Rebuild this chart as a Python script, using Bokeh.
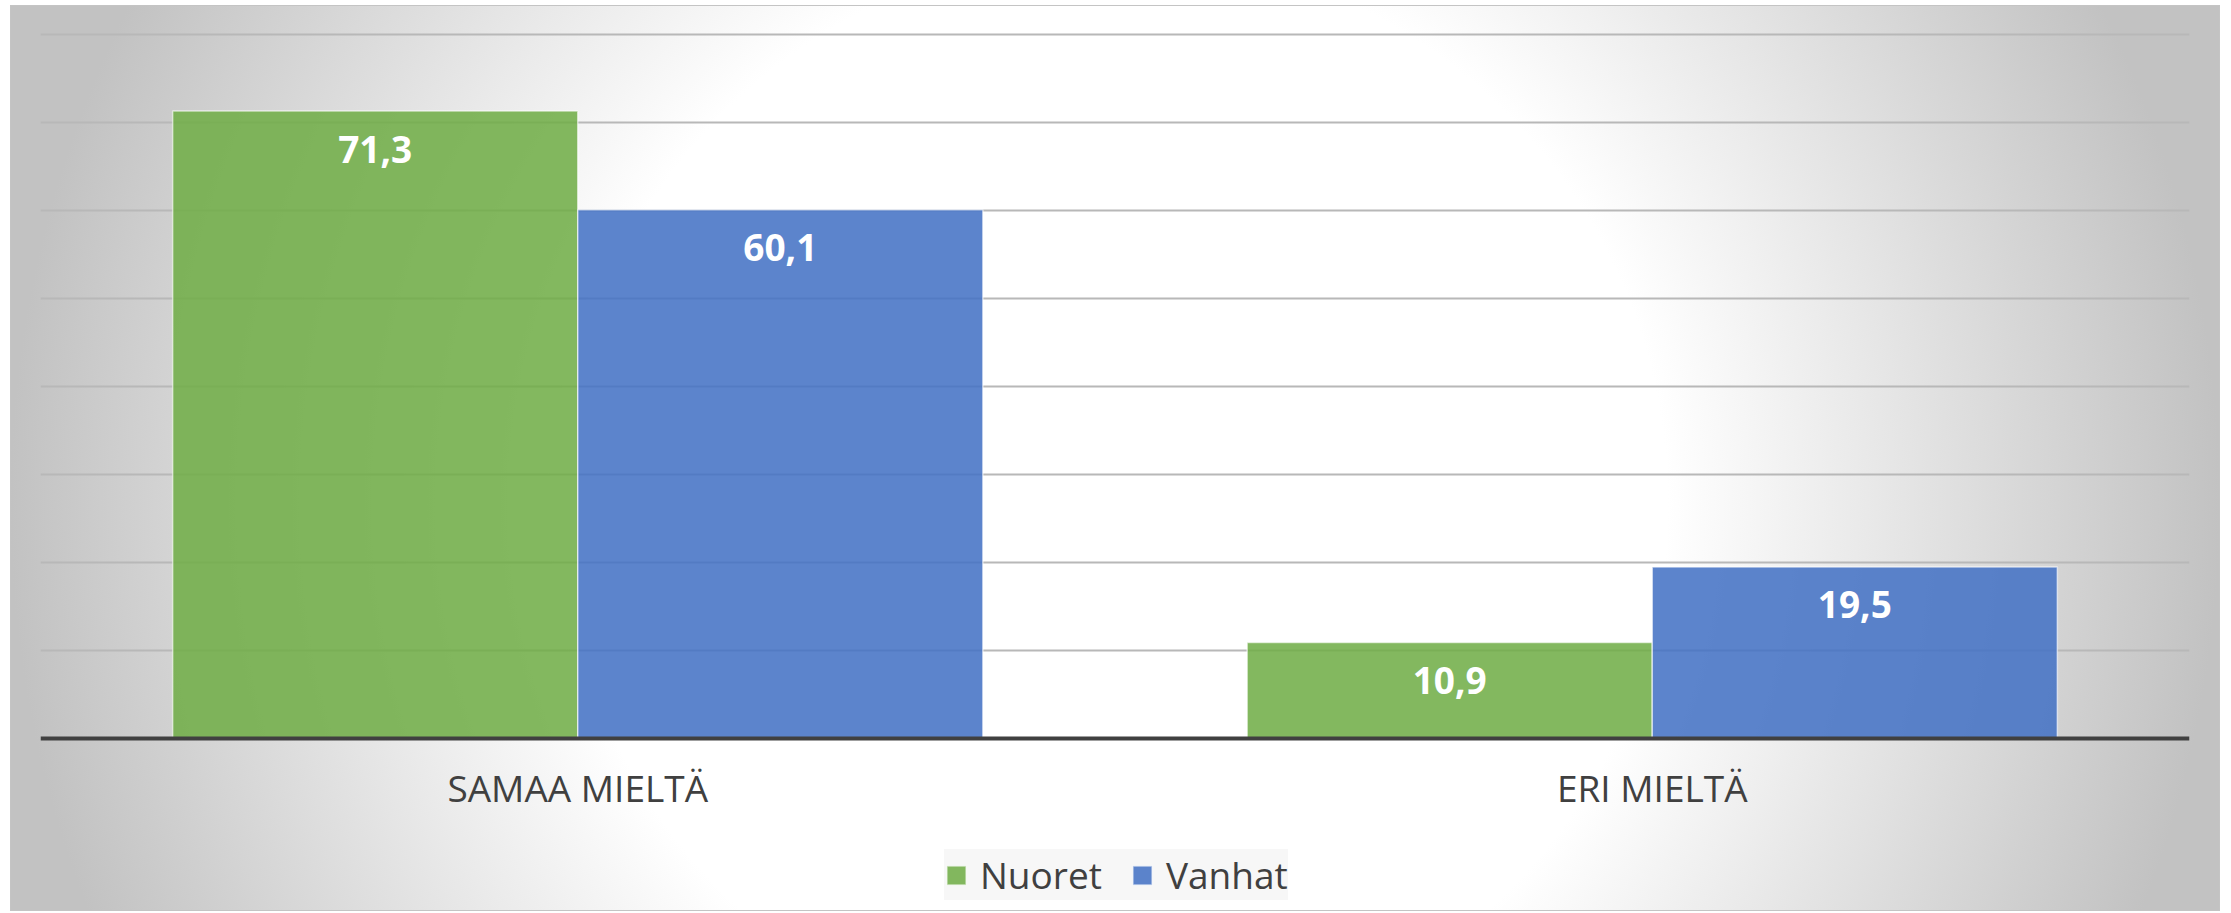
from bokeh.plotting import figure
from bokeh.models import (FactorRange, Range1d, FixedTicker, Legend, LegendItem,
                          ColumnDataSource)
from bokeh.transform import dodge
from bokeh.core.properties import value
from bokeh.embed import file_html
from bokeh.resources import INLINE

# ---- data ----
categories = ["SAMAA MIELTÄ", "ERI MIELTÄ"]
series_names = ["Nuoret", "Vanhat"]
nuoret = [71.3, 10.9]
vanhat = [60.1, 19.5]
y_ticks = [10, 20, 30, 40, 50, 60, 70, 80]

def fmt(v):
    return f"{v:.1f}".replace(".", ",")

src = ColumnDataSource(dict(
    cat=categories,
    nuoret=nuoret,
    vanhat=vanhat,
    nuoret_lbl=[fmt(v) for v in nuoret],
    vanhat_lbl=[fmt(v) for v in vanhat],
))

FONT = "Open Sans"
GREEN = "#70AD47"
BLUE = "#4472C4"

# frame spans from the top gridline area down to the canvas bottom;
# the category axis sits at y = 0 inside it
p = figure(
    x_range=FactorRange(factors=categories, range_padding=0),
    y_range=Range1d(-19.66, 80.23),
    width=2210, height=906,
    output_backend="svg", toolbar_location=None,
    min_border_left=30, min_border_right=31,
    min_border_top=27, min_border_bottom=0,
)
p.styles = {
    "margin-left": "10px",
    "margin-top": "5px",
    "background": "radial-gradient(circle farthest-side at 50% 55%, #ffffff 0%, #ffffff 50%, #c2c2c2 100%)",
    "box-shadow": "inset 0 0 0 1px #c4c4c4",
}
p.background_fill_color = None
p.border_fill_color = None
p.outline_line_color = None

bw = 0.377
r1 = p.vbar(x=dodge("cat", -bw / 2, range=p.x_range), top="nuoret", bottom=0, width=bw,
            source=src, fill_color=GREEN, fill_alpha=0.87,
            line_color="white", line_alpha=0.6, line_width=1.5)
r2 = p.vbar(x=dodge("cat", bw / 2, range=p.x_range), top="vanhat", bottom=0, width=bw,
            source=src, fill_color=BLUE, fill_alpha=0.87,
            line_color="white", line_alpha=0.6, line_width=1.5)

for col, off in (("nuoret", -bw / 2), ("vanhat", bw / 2)):
    p.text(x=dodge("cat", off, range=p.x_range), y=col, text=col + "_lbl",
           source=src, text_align="center", text_baseline="alphabetic",
           y_offset=38, text_color="white", text_font=value(FONT),
           text_font_style="bold", text_font_size="37px")

# axes
p.yaxis.visible = False
p.yaxis.ticker = FixedTicker(ticks=y_ticks)
p.ygrid.ticker = FixedTicker(ticks=y_ticks)
p.ygrid.grid_line_color = "#b8b8b8"
p.ygrid.grid_line_width = 2
p.xgrid.grid_line_color = None

xa = p.xaxis[0]
xa.fixed_location = 0
xa.axis_line_color = "#404040"
xa.axis_line_width = 4
xa.major_tick_line_color = None
xa.minor_tick_line_color = None
xa.major_label_standoff = 18
xa.major_label_text_font = FONT
xa.major_label_text_font_size = "37px"
xa.major_label_text_color = "#404040"

legend = Legend(
    items=[LegendItem(label=series_names[0], renderers=[r1]),
           LegendItem(label=series_names[1], renderers=[r2])],
    orientation="horizontal",
    location=(904, 11),
    margin=0, padding=22, spacing=28,
    glyph_width=24, glyph_height=24, label_standoff=12, label_width=0,
    label_text_font=FONT, label_text_font_size="37px", label_text_color="#404040",
    background_fill_color="#f7f7f7", background_fill_alpha=1.0,
    border_line_color=None,
)
p.add_layout(legend, "center")

open("out.html", "w").write(file_html(p, INLINE))
